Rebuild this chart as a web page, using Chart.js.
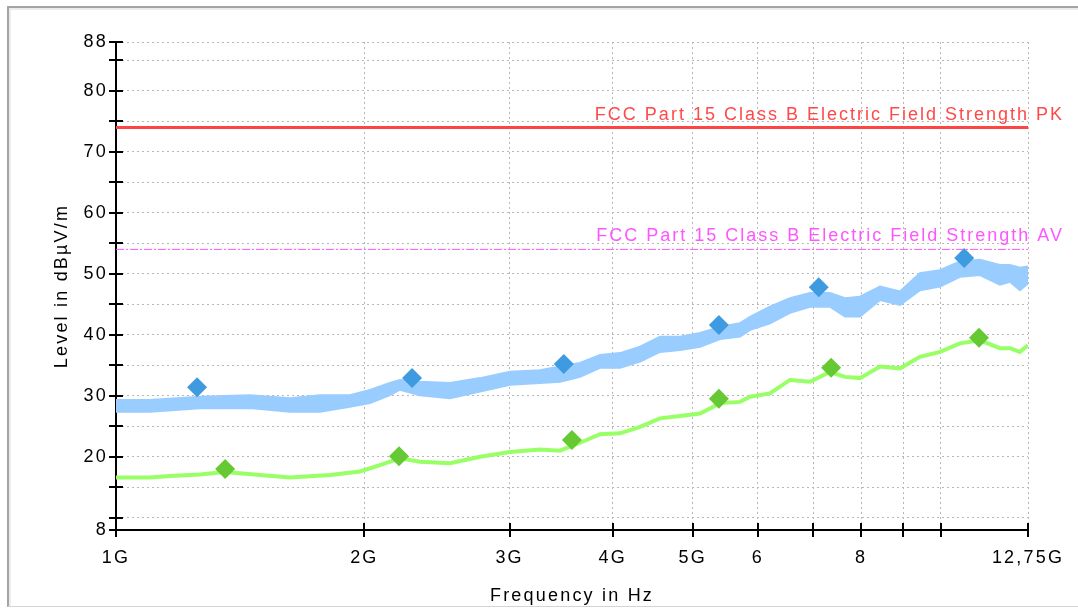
<!DOCTYPE html>
<html>
<head>
  <meta charset="UTF-8">
  <title>Level vs Frequency</title>
  <style>
    html, body { margin: 0; padding: 0; background: #fff; overflow: hidden; }
    #frame {
      position: absolute; left: 7px; top: 6px; width: 1100px; height: 598px;
      border-top: 2px solid #a4a4a4; border-left: 2px solid #a4a4a4;
      border-bottom: 1px solid #d4d4d4;
      box-shadow: inset 2px 2px 0 #ececec;
    }
    #chart { position: absolute; left: 0; top: 0; display: block; }
  </style>
</head>
<body>
  <div id="frame"></div>
  <canvas id="chart" width="1078" height="608"></canvas>

  <script src="https://cdn.jsdelivr.net/npm/chart.js"></script>
  <script>
    // axis ticks
    const xTicks = [1, 2, 3, 4, 5, 6, 7, 8, 9, 10, 12.75];
    const xTickLabels = ["1G", "2G", "3G", "4G", "5G", "6", "", "8", "", "", "12,75G"];
    const yTicks = [8, 10, 15, 20, 25, 30, 35, 40, 45, 50, 55, 60, 65, 70, 75, 80, 85, 88];
    const yTickLabels = [8, 20, 30, 40, 50, 60, 70, 80, 88];

    // limit lines (dBuV/m)
    const pkLimit = 74;
    const avLimit = 54;
    const pkLimitText = "FCC Part 15 Class B Electric Field Strength PK";
    const avLimitText = "FCC Part 15 Class B Electric Field Strength AV";

    // peak trace, read as upper / lower edge of the noise band (GHz, dBuV/m)
    const peakFreq = [1.0, 1.099, 1.264, 1.454, 1.625, 1.767, 1.921, 2.032, 2.148, 2.209,
      2.336, 2.540, 2.763, 3.003, 3.265, 3.452, 3.651, 3.861, 4.083, 4.318,
      4.565, 4.828, 5.105, 5.398, 5.708, 5.870, 6.205, 6.561, 6.938, 7.336,
      7.650, 7.977, 8.436, 8.920, 9.430, 9.972, 10.545, 11.150, 11.790, 12.124,
      12.467, 12.75];
    const peakHigh = [29.3, 29.3, 29.85, 30.1, 29.6, 30.1, 30.1, 30.95, 32.1, 32.6,
      32.3, 32.1, 32.9, 33.95, 34.2, 34.8, 35.4, 36.7, 37.0, 38.05,
      39.7, 39.7, 40.3, 41.3, 41.9, 42.95, 44.6, 46.0, 46.85, 46.85,
      46.0, 46.25, 47.9, 47.1, 50.1, 50.6, 52.0, 52.3, 51.45, 51.45,
      51.0, 51.2];
    const peakLow = [27.4, 27.4, 27.95, 28.0, 27.4, 27.4, 28.2, 28.8, 30.1, 31.0,
      30.1, 29.6, 30.7, 31.8, 32.1, 32.3, 33.1, 34.6, 34.6, 35.6,
      37.2, 37.5, 38.05, 39.3, 39.7, 40.8, 41.9, 43.6, 44.6, 44.6,
      43.0, 43.0, 45.7, 44.9, 47.3, 47.9, 49.5, 49.8, 48.2, 48.7,
      47.3, 48.4];

    // average trace
    const avgFreq = [1.0, 1.099, 1.163, 1.264, 1.356, 1.495, 1.625, 1.817, 1.976, 2.089,
      2.209, 2.336, 2.540, 2.763, 3.003, 3.265, 3.452, 3.651, 3.861, 4.083,
      4.318, 4.565, 4.828, 5.105, 5.398, 5.708, 5.870, 6.205, 6.561, 6.938,
      7.336, 7.650, 7.977, 8.436, 8.920, 9.430, 9.972, 10.545, 11.150, 11.790,
      12.124, 12.467, 12.75];
    const avgLevel = [16.6, 16.6, 16.85, 17.1, 17.5, 17.0, 16.6, 17.0, 17.6, 18.65,
      19.75, 19.2, 18.95, 20.0, 20.8, 21.2, 21.0, 22.3, 23.7, 23.85,
      24.9, 26.3, 26.7, 27.1, 28.8, 29.0, 29.85, 30.4, 32.6, 32.3,
      33.9, 33.1, 32.9, 34.8, 34.5, 36.4, 37.2, 38.6, 39.1, 37.8,
      37.8, 37.2, 38.3];

    // final measurement markers
    const pkMarkFreq = [1.254, 2.285, 3.49, 5.38, 7.11, 10.67];
    const pkMarkLevel = [31.4, 32.9, 35.2, 41.6, 47.8, 52.6];
    const avMarkFreq = [1.356, 2.203, 3.57, 5.38, 7.36, 11.12];
    const avMarkLevel = [18.0, 20.1, 22.75, 29.5, 34.6, 39.5];

    const xy = (xs, ys) => xs.map((x, i) => ({ x: x, y: ys[i] }));
    const flat = (v) => [{ x: xTicks[0], y: v }, { x: xTicks[xTicks.length - 1], y: v }];

    const FONT = { family: "Liberation Sans", size: 18 };

    // spaced-out lettering like the original bitmap font
    const spacing = {
      id: "spacing",
      beforeDraw(chart) { chart.ctx.letterSpacing = "2.2px"; },
    };

    // ticks that cross the axis line
    const crossTicks = {
      id: "crossTicks",
      afterDraw(chart) {
        const { ctx, scales: { x, y } } = chart;
        ctx.save();
        ctx.strokeStyle = "#000";
        ctx.lineWidth = 2;
        ctx.beginPath();
        y.ticks.forEach((t) => {
          const py = Math.round(y.getPixelForValue(t.value));
          ctx.moveTo(y.right - 7, py);
          ctx.lineTo(y.right + 7, py);
        });
        x.ticks.forEach((t) => {
          const px = Math.round(x.getPixelForValue(t.value));
          ctx.moveTo(px, x.top - 7);
          ctx.lineTo(px, x.top + 7);
        });
        ctx.stroke();
        ctx.restore();
      },
    };

    // limit line captions
    const limitLabels = {
      id: "limitLabels",
      afterDatasetsDraw(chart) {
        const { ctx, scales: { y }, chartArea } = chart;
        ctx.save();
        ctx.font = FONT.size + "px " + FONT.family;
        ctx.letterSpacing = "2px";
        ctx.textAlign = "right";
        ctx.textBaseline = "bottom";
        ctx.fillStyle = "#ff4848";
        ctx.fillText(pkLimitText, chartArea.right + 36, y.getPixelForValue(pkLimit) - 3);
        ctx.fillStyle = "#ff55ff";
        ctx.fillText(avLimitText, chartArea.right + 36, y.getPixelForValue(avLimit) - 4);
        ctx.restore();
      },
    };

    new Chart(document.getElementById("chart"), {
      type: "line",
      data: {
        datasets: [
          {
            label: "PK markers", data: xy(pkMarkFreq, pkMarkLevel), order: 0,
            showLine: false, pointStyle: "rectRot", pointRadius: 10,
            pointBackgroundColor: "#3f9be0", pointBorderColor: "#3f9be0", pointBorderWidth: 0,
          },
          {
            label: "AV markers", data: xy(avMarkFreq, avMarkLevel), order: 0,
            showLine: false, pointStyle: "rectRot", pointRadius: 10,
            pointBackgroundColor: "#66c833", pointBorderColor: "#66c833", pointBorderWidth: 0,
          },
          {
            label: "PK limit", data: flat(pkLimit), order: 1,
            borderColor: "#ff4444", borderWidth: 3, pointRadius: 0,
          },
          {
            label: "AV limit", data: flat(avLimit), order: 1,
            borderColor: "#ff55ff", borderWidth: 1, borderDash: [8, 2, 2, 2], pointRadius: 0,
          },
          {
            label: "Peak high", data: xy(peakFreq, peakHigh), order: 3,
            borderColor: "#99ccff", backgroundColor: "#99ccff", borderWidth: 2,
            pointRadius: 0, fill: "+1",
          },
          {
            label: "Peak low", data: xy(peakFreq, peakLow), order: 3,
            borderColor: "#99ccff", borderWidth: 2, pointRadius: 0,
          },
          {
            label: "Average", data: xy(avgFreq, avgLevel), order: 2,
            borderColor: "#99ff66", borderWidth: 4, pointRadius: 0,
          },
        ],
      },
      options: {
        responsive: false,
        animation: false,
        layout: { padding: { left: 0, top: 42, right: 50, bottom: 0 } },
        plugins: { legend: { display: false }, tooltip: { enabled: false } },
        elements: { line: { tension: 0 } },
        scales: {
          x: {
            type: "logarithmic",
            min: 1,
            max: 12.75,
            afterBuildTicks: (s) => { s.ticks = xTicks.map((v) => ({ value: v })); },
            afterFit: (s) => { s.height = 78; },
            ticks: {
              autoSkip: false, maxRotation: 0, color: "#000", font: FONT, padding: 17,
              callback: (v, i) => xTickLabels[i],
            },
            grid: { color: "#b8b8b8", drawTicks: false },
            border: { display: true, color: "#000", width: 2, dash: [2, 3] },
            title: {
              display: true, text: "Frequency in Hz", color: "#000", font: FONT,
              padding: { top: 0, bottom: 1 },
            },
          },
          y: {
            type: "linear",
            min: 8,
            max: 88,
            afterBuildTicks: (s) => { s.ticks = yTicks.map((v) => ({ value: v })); },
            afterFit: (s) => { s.width = 116; },
            ticks: {
              autoSkip: false, color: "#000", font: FONT, padding: 8,
              callback: (v) => (yTickLabels.includes(v) ? String(v) : ""),
            },
            grid: { color: "#b8b8b8", drawTicks: false },
            border: { display: true, color: "#000", width: 2, dash: [2, 3] },
            title: {
              display: true, text: "Level in dBµV/m", color: "#000", font: FONT,
              padding: { top: 51, bottom: 0 },
            },
          },
        },
      },
      plugins: [spacing, limitLabels, crossTicks],
    });
  </script>
</body>
</html>
